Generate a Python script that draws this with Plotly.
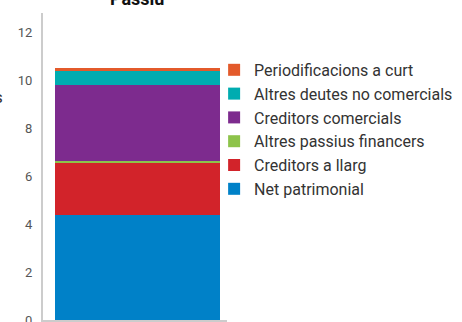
import plotly.graph_objects as go

category = ["Passiu"]
series_names = [
    "Net patrimonial",
    "Creditors a llarg",
    "Altres passius financers",
    "Creditors comercials",
    "Altres deutes no comercials",
    "Periodificacions a curt",
]
series_values = [4.39, 2.15, 0.09, 3.15, 0.60, 0.125]
series_colors = ["#0081C8", "#D2232A", "#8DC34A", "#7D2B8E", "#00ACB0", "#E35A2B"]
y_ticks = [0, 2, 4, 6, 8, 10, 12]

fig = go.Figure()
for name, val, col in zip(series_names, series_values, series_colors):
    fig.add_trace(go.Bar(x=category, y=[val], name=name, marker=dict(color=col, line=dict(width=0))))

fig.update_layout(
    width=462, height=322,
    margin=dict(l=43, r=235, t=13, b=2, autoexpand=False),
    barmode="stack",
    bargap=0.103,
    plot_bgcolor="white", paper_bgcolor="white",
    title=dict(text="<b>Passiu</b>", x=0.297, xref="container", xanchor="center",
               y=0.985, yref="container", yanchor="bottom",
               font=dict(family="Roboto", size=18, color="#111")),
    xaxis=dict(range=[-0.5136, 0.4864], showticklabels=False, showgrid=False, showline=True,
               linecolor="#CCCCCC", linewidth=2, ticks="", zeroline=False),
    yaxis=dict(range=[0, 12.8], tickvals=y_ticks, showgrid=False, showline=True,
               linecolor="#CCCCCC", linewidth=2, ticks="", zeroline=False,
               tickfont=dict(family="Roboto", size=13, color="#555"), ticklabelstandoff=6,
               ticklabeloverflow="allow"),
    legend=dict(x=0.93, xanchor="left", y=0.87, yanchor="top", traceorder="reversed",
                font=dict(family="Roboto", size=16, color="#333"),
                bgcolor="rgba(0,0,0,0)"),
    annotations=[dict(text="Milions d'euros", x=-0.2065, xref="paper", xanchor="right",
                      y=0.726, yref="paper", yanchor="middle", showarrow=False,
                      font=dict(family="Roboto", size=17, color="#333"))],
)
fig.write_html("out.html")
